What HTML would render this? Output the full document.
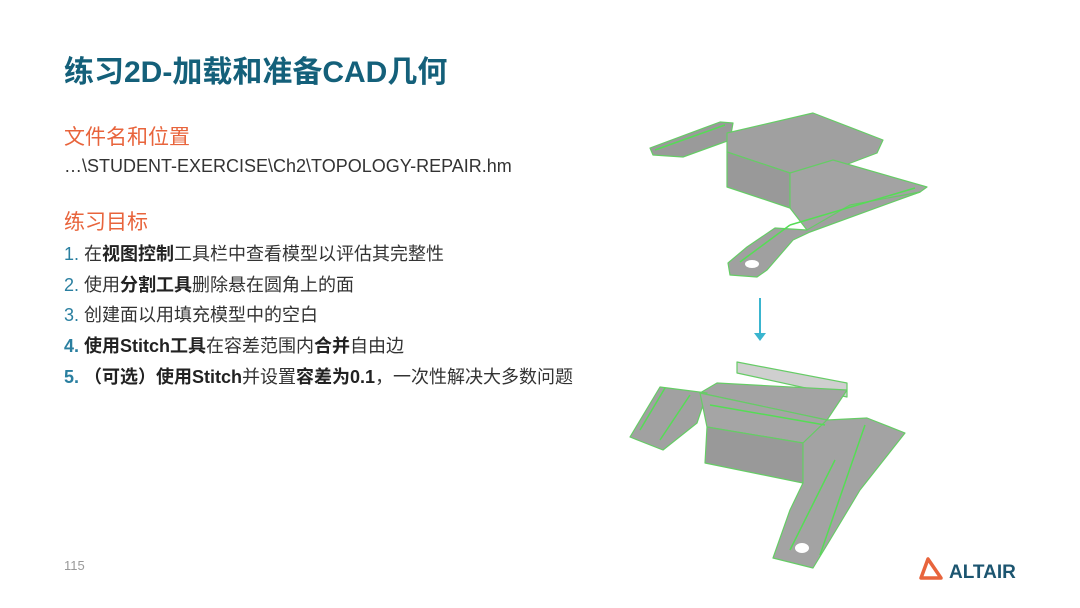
<!DOCTYPE html>
<html><head><meta charset="utf-8"><style>
body{margin:0;width:1080px;height:608px;background:#fff;position:relative;overflow:hidden;font-family:"Liberation Sans","Noto Sans CJK SC",sans-serif;}
.a{position:absolute;white-space:nowrap;}
.t{left:64px;top:47px;font-size:30px;font-weight:bold;color:#14607a;}
.h{font-size:21px;color:#e8643c;left:64px;}
.p{font-size:18px;color:#333;left:64px;}
.li{font-size:18px;color:#333;left:64px;}
.li span.n{color:#2a7fa0;}
b{color:#222;}
</style></head><body>
<div class="a t">练习2D-加载和准备CAD几何</div>
<div class="a h" style="top:121px">文件名和位置</div>
<div class="a p" style="top:156px">…\STUDENT-EXERCISE\Ch2\TOPOLOGY-REPAIR.hm</div>
<div class="a h" style="top:206px">练习目标</div>
<div class="a li" style="top:240px"><span class="n">1.</span> 在<b>视图控制</b>工具栏中查看模型以评估其完整性</div>
<div class="a li" style="top:271px"><span class="n">2.</span> 使用<b>分割工具</b>删除悬在圆角上的面</div>
<div class="a li" style="top:301px"><span class="n">3.</span> 创建面以用填充模型中的空白</div>
<div class="a li" style="top:332px"><b><span class="n">4.</span> 使用Stitch工具</b>在容差范围内<b>合并</b>自由边</div>
<div class="a li" style="top:363px"><b><span class="n">5.</span> （可选）使用Stitch</b>并设置<b>容差为0.1</b>，一次性解决大多数问题</div>
<div class="a" style="left:64px;top:558px;font-size:13px;color:#999">115</div>
<svg class="a" style="left:0;top:0" width="1080" height="608">
<g stroke="#6c6" stroke-width="1.2" fill="#9a9a9a" stroke-linejoin="round">
<polygon points="650,148 720,122 733,123 730,140 683,157 653,155"/>
<polygon points="727,133 813,113 883,140 877,153 840,167 790,173 727,152" fill="#a0a0a0"/>
<polygon points="727,152 790,173 790,208 727,187" fill="#999"/>
<polygon points="790,173 833,160 927,187 920,192 807,230 790,208" fill="#a3a3a3"/>
<polygon points="728,263 747,247 775,228 807,230 850,205 920,192 810,232 793,240 767,270 757,277 730,275" fill="#a0a0a0"/>
<polygon points="737,362 847,383 847,397 737,373" fill="#cfcfcf"/>
<polygon points="717,383 847,390 827,420 700,393" fill="#a3a3a3"/>
<polygon points="660,387 707,393 697,423 663,450 630,437" fill="#a1a1a1"/>
<polygon points="700,393 827,420 803,443 707,427" fill="#a5a5a5"/>
<polygon points="707,427 803,443 803,483 705,463" fill="#999"/>
<polygon points="803,443 827,420 867,418 905,433 860,490 830,540 813,568 773,558 790,510 803,483" fill="#a3a3a3"/>
</g>
<g stroke="#5d5" stroke-width="1.5" fill="none">
<line x1="655" y1="150" x2="725" y2="125"/>
<line x1="790" y1="225" x2="915" y2="188"/>
<line x1="740" y1="262" x2="790" y2="225"/>
<line x1="640" y1="430" x2="665" y2="388"/>
<line x1="660" y1="440" x2="690" y2="395"/>
<line x1="820" y1="555" x2="865" y2="425"/>
<line x1="790" y1="550" x2="835" y2="460"/>
<line x1="710" y1="405" x2="825" y2="425"/>
</g>
<ellipse cx="752" cy="264" rx="7" ry="4" fill="#fff"/>
<ellipse cx="802" cy="548" rx="7" ry="5" fill="#fff"/>
<line x1="760" y1="298" x2="760" y2="333" stroke="#3ab5cf" stroke-width="2"/>
<polygon points="754,333 766,333 760,341" fill="#3ab5cf"/>
<polygon points="928,559 921,578 941,578" fill="none" stroke="#e8643c" stroke-width="3.5" stroke-linejoin="round"/>
<text x="949" y="578" font-family="Liberation Sans" font-size="19" font-weight="bold" fill="#1c5570">ALTAIR</text>
</svg>
</body></html>
